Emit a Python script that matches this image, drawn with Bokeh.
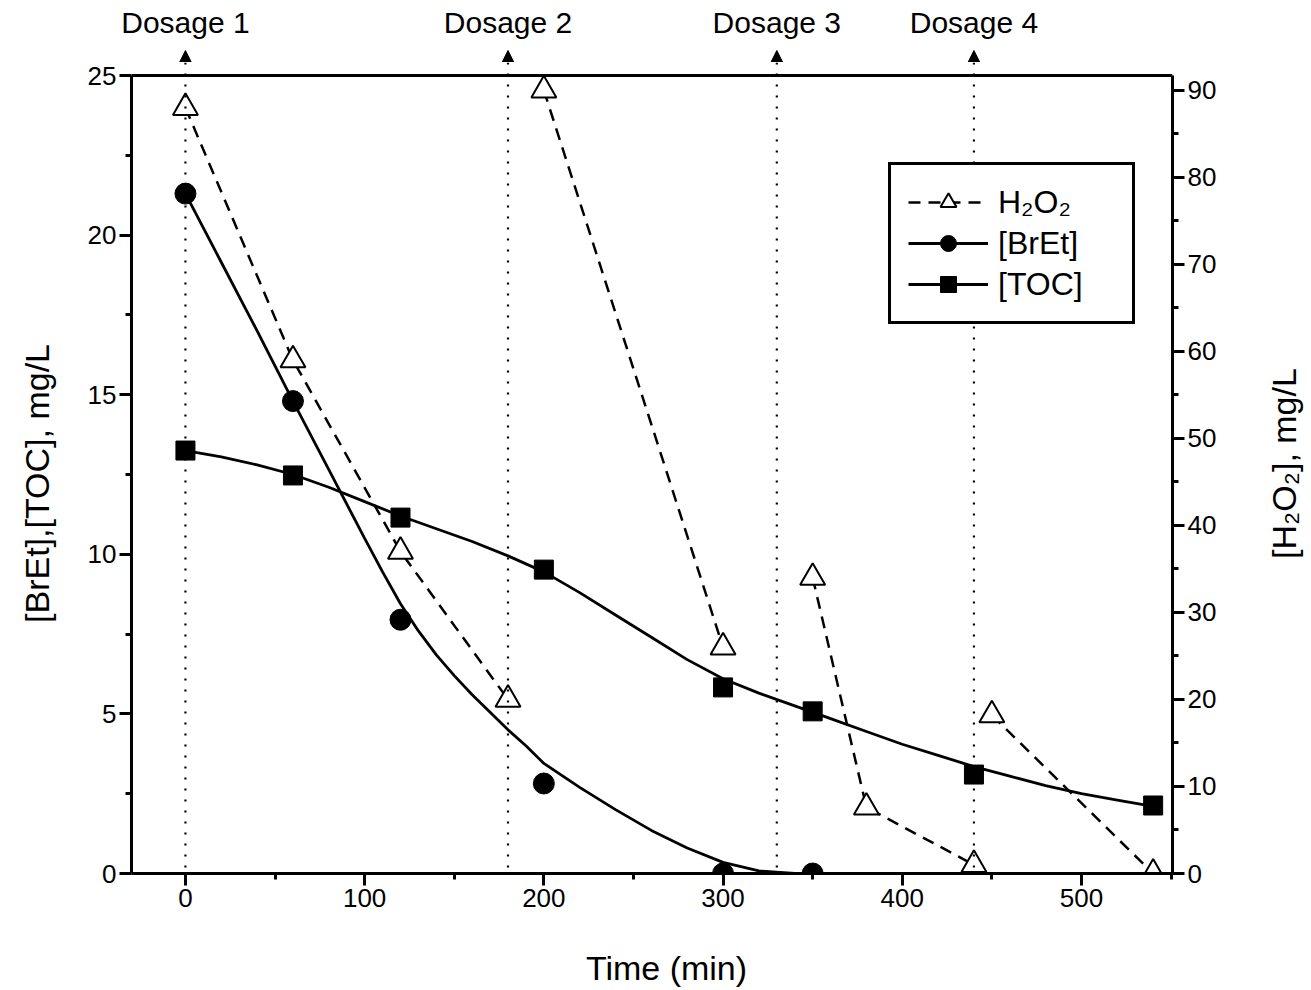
from bokeh.plotting import figure
from bokeh.layouts import column, row
from bokeh.models import (Range1d, LinearAxis, FixedTicker, Legend, LegendItem,
                          Label, Arrow, NormalHead, Span)
from bokeh.embed import file_html
from bokeh.resources import INLINE
import math

FONT = "Liberation Sans"

# ---- data ----
bret_time = [0, 60, 120, 200, 300, 350]
bret = [21.3, 14.8, 7.95, 2.82, 0.0, 0.0]

toc_time = [0, 60, 120, 200, 300, 350, 440, 540]
toc = [13.25, 12.47, 11.15, 9.52, 5.83, 5.08, 3.10, 2.13]

h2o2_time = [0, 60, 120, 180, 200, 300, 350, 380, 440, 450, 540]
h2o2 = [88.0, 59.0, 37.0, 20.0, 90.0, 26.0, 34.0, 7.6, 1.0, 18.2, 0.0]
h2o2_run = [1, 1, 1, 1, 2, 2, 3, 3, 3, 4, 4]

# fitted curves
bret_fit_time = [0, 20, 40, 60, 80, 100, 110, 120, 130, 140, 150, 160, 170,
                 180, 190, 200, 220, 240, 260, 280, 300, 320, 340, 350]
bret_fit = [21.3, 19.15, 17.0, 14.8, 12.65, 10.5, 9.45, 8.45, 7.6, 6.85,
            6.2, 5.6, 5.05, 4.5, 4.0, 3.45, 2.7, 2.0, 1.35, 0.8, 0.35, 0.08,
            0.0, 0.0]

toc_fit_time = [0, 20, 40, 60, 80, 100, 120, 140, 160, 180, 200, 220, 240,
                260, 280, 300, 320, 340, 360, 380, 400, 420, 440, 460, 480,
                500, 520, 540]
toc_fit = [13.25, 13.05, 12.8, 12.5, 12.1, 11.65, 11.2, 10.8, 10.4, 9.95,
           9.45, 8.8, 8.1, 7.4, 6.7, 6.1, 5.65, 5.25, 4.85, 4.45, 4.05, 3.7,
           3.35, 3.05, 2.75, 2.5, 2.3, 2.1]

dosage_time = [0, 180, 330, 440]
dosage_label = ["Dosage 1", "Dosage 2", "Dosage 3", "Dosage 4"]

x_ticks = [0, 100, 200, 300, 400, 500]
x_minor = [50, 150, 250, 350, 450, 550]
yl_ticks = [0, 5, 10, 15, 20, 25]
yl_minor = [2.5, 7.5, 12.5, 17.5, 22.5]
yr_ticks = [0, 10, 20, 30, 40, 50, 60, 70, 80, 90]
yr_minor = [5, 15, 25, 35, 45, 55, 65, 75, 85]

x_title = "Time (min)"
yl_title = "[BrEt],[TOC], mg/L"
yr_title = "[H₂O₂], mg/L"

X0, X1 = -30.1, 550.8     # time axis limits
YL_TOP = 25.0             # top of the left axis
YR_TOP = 91.7             # top of the right axis (same height as 25 on the left)

# H2O2 line broken between dosage runs
hx, hy = [], []
for i, (t, v, r) in enumerate(zip(h2o2_time, h2o2, h2o2_run)):
    if i > 0 and r != h2o2_run[i - 1]:
        hx.append(float("nan"))
        hy.append(float("nan"))
    hx.append(t)
    hy.append(v)

# ---- page geometry (pixels) ----
W, H = 1311, 990
BOX_L, BOX_R = 131, 1172      # plot box left / right
BOX_T, BOX_B = 75, 873        # plot box top / bottom
TOP_H = 62                    # strip above the main figure
LS_W = 70                     # strip left of the main figure
RS_W = 69                     # strip right of the main figure
MAIN_BB = 60                  # bottom border of the main figure (tick labels)
FW = BOX_R - BOX_L
FH = BOX_B - TOP_H
PLOT_H = BOX_B - BOX_T
MAIN_H = FH + MAIN_BB
BOT_H = H - TOP_H - MAIN_H

scale_x = FW / (X1 - X0)
top_left = YL_TOP * FH / PLOT_H
top_right = YR_TOP * FH / PLOT_H


def blank(w, h, xr=None):
    f = figure(frame_width=w, frame_height=h,
               x_range=xr if xr is not None else Range1d(0, w),
               y_range=Range1d(0, h), min_border=0,
               x_axis_type=None, y_axis_type=None,
               output_backend="svg", toolbar_location=None,
               border_fill_color="white", background_fill_color="white")
    f.grid.visible = False
    f.outline_line_color = None
    if "frame_align" in f.properties():
        f.frame_align = False
    return f


# ---- top strip: dosage labels and arrow heads ----
strip = blank(W, TOP_H, Range1d(X0 - BOX_L / scale_x, X1 + (W - BOX_R) / scale_x))
for t, lab in zip(dosage_time, dosage_label):
    strip.add_layout(Arrow(x_start=t, y_start=0, x_end=t, y_end=TOP_H - 50,
                           line_color="black", line_width=2.2,
                           line_dash="2 9",
                           end=NormalHead(size=12, fill_color="black",
                                          line_color="black", line_width=1)))
    strip.add_layout(Label(x=t, y=TOP_H - 22, text=lab,
                           text_align="center", text_baseline="middle",
                           text_font=FONT, text_font_size="30px",
                           text_color="black"))

# ---- left / right / bottom strips with the axis titles ----
lstrip = blank(LS_W, MAIN_H)
lstrip.add_layout(Label(x=36, y=(TOP_H + MAIN_H) - 483, text=yl_title,
                        angle=math.pi / 2, text_align="center",
                        text_baseline="middle", text_font=FONT,
                        text_font_size="34px", text_color="black"))
rstrip = blank(RS_W, MAIN_H)
rstrip.add_layout(Label(x=1283 - (W - RS_W), y=(TOP_H + MAIN_H) - 463,
                        text=yr_title, angle=math.pi / 2, text_align="center",
                        text_baseline="middle", text_font=FONT,
                        text_font_size="34px", text_color="black"))
bstrip = blank(W, BOT_H)
bstrip.add_layout(Label(x=666, y=H - 967, text=x_title, text_align="center",
                        text_baseline="middle", text_font=FONT,
                        text_font_size="34px", text_color="black"))

# ---- main figure ----
p = figure(frame_width=FW, frame_height=FH,
           x_range=Range1d(X0, X1), y_range=Range1d(0, top_left),
           output_backend="svg", toolbar_location=None,
           min_border_left=BOX_L - LS_W, min_border_right=W - BOX_R - RS_W,
           min_border_top=0, min_border_bottom=MAIN_BB,
           background_fill_color="white", border_fill_color="white")
if "frame_align" in p.properties():
    p.frame_align = False
p.extra_y_ranges = {"h2o2": Range1d(0, top_right)}
p.grid.visible = False
p.outline_line_color = None

p.xaxis.ticker = FixedTicker(ticks=x_ticks, minor_ticks=x_minor)
p.yaxis.ticker = FixedTicker(ticks=yl_ticks, minor_ticks=yl_minor)
p.yaxis.bounds = (0, YL_TOP)
rax = LinearAxis(y_range_name="h2o2",
                 ticker=FixedTicker(ticks=yr_ticks, minor_ticks=yr_minor),
                 bounds=(0, YR_TOP))
p.add_layout(rax, "right")

for ax in [p.xaxis[0], p.yaxis[0], rax]:
    ax.axis_line_width = 3
    ax.axis_line_color = "black"
    ax.major_tick_line_width = 3
    ax.minor_tick_line_width = 3
    ax.major_tick_line_color = "black"
    ax.minor_tick_line_color = "black"
    ax.major_tick_out = 12
    ax.major_tick_in = 0
    ax.minor_tick_out = 6
    ax.minor_tick_in = 0
    ax.major_label_text_font = FONT
    ax.major_label_text_font_size = "26px"
    ax.major_label_text_color = "black"
    ax.major_label_standoff = 3

# top border of the plot box
p.add_layout(Span(location=YL_TOP, dimension="width", line_color="black",
                  line_width=3))
# dotted dosage lines
for t in dosage_time:
    p.add_layout(Span(location=t, dimension="height", line_color="black",
                      line_width=2.2, line_dash="2 9"))

# glyphs
h_line = p.line(hx, hy, y_range_name="h2o2", line_color="black",
                line_width=2.5, line_dash="12 8")
h_pts = p.scatter(h2o2_time, h2o2, y_range_name="h2o2", marker="triangle",
                  size=25, fill_color="white", line_color="black", line_width=2)

b_line = p.line(bret_fit_time, bret_fit, line_color="black", line_width=2.8)
b_pts = p.scatter(bret_time, bret, marker="circle", size=21,
                  fill_color="black", line_color="black")

t_line = p.line(toc_fit_time, toc_fit, line_color="black", line_width=2.8)
t_pts = p.scatter(toc_time, toc, marker="square", size=19,
                  fill_color="black", line_color="black")

legend = Legend(items=[
    LegendItem(label="H₂O₂", renderers=[h_line, h_pts]),
    LegendItem(label="[BrEt]", renderers=[b_line, b_pts]),
    LegendItem(label="[TOC]", renderers=[t_line, t_pts]),
], location=(757, 549))
legend.border_line_color = "black"
legend.border_line_alpha = 1
legend.border_line_width = 3
legend.background_fill_color = "white"
legend.background_fill_alpha = 1
legend.label_text_font = FONT
legend.label_text_font_size = "32px"
legend.label_text_color = "black"
legend.glyph_width = 80
legend.glyph_height = 40
legend.label_height = 40
legend.label_width = 117
legend.spacing = 1
legend.padding = 17
legend.margin = 0
legend.label_standoff = 10
p.add_layout(legend)

layout = column(strip, row(lstrip, p, rstrip, spacing=0), bstrip, spacing=0)
open("out.html", "w").write(file_html(layout, INLINE))
